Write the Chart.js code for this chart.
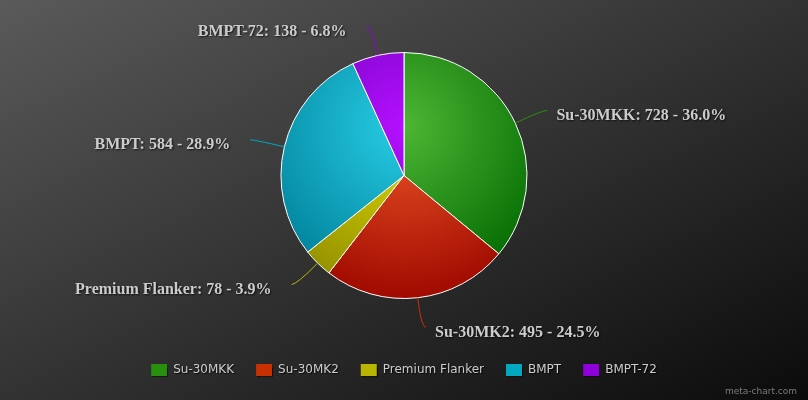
<!DOCTYPE html>
<html>
<head>
<meta charset="utf-8">
<title>Pie</title>
<script src="https://cdn.jsdelivr.net/npm/chart.js@4.4.1/dist/chart.umd.min.js"></script>
<style>
  html, body { margin: 0; padding: 0; }
  body { width: 808px; height: 400px; overflow: hidden;
         background: linear-gradient(to bottom right, #5a5a5a, #0b0b0b); }
  #wrap { position: relative; width: 808px; height: 400px; }
</style>
</head>
<body>
<div id="wrap"><canvas id="pie"></canvas></div>
<script>
const categories = ['Su-30MKK', 'Su-30MK2', 'Premium Flanker', 'BMPT', 'BMPT-72'];
const values = [728, 495, 78, 584, 138];
const baseColors = ['#4eb634', '#ed5728', '#e0dc00', '#28cde6', '#b410ff'];

// darker shade of a hex colour, amt subtracted from each channel
function darken(hex, amt) {
    const n = parseInt(hex.slice(1), 16);
    const c = [(n >> 16) & 255, (n >> 8) & 255, n & 255].map(v => Math.max(0, v - amt));
    return `rgb(${c[0]},${c[1]},${c[2]})`;
}
const darkColors = baseColors.map(c => darken(c, 77));
const midColors = baseColors.map(c => darken(c, 38));

const total = values.reduce((a, b) => a + b, 0);

const radialFill = {
    id: 'radialFill',
    beforeDraw(chart) {
        // soft shadow for the legend text, drawn before the datasets
        const ctx = chart.ctx;
        ctx.save();
        ctx.shadowColor = 'rgba(0,0,0,0.8)';
        ctx.shadowOffsetX = 1;
        ctx.shadowOffsetY = 1;
        ctx.shadowBlur = 1;
    },
    beforeDatasetsDraw(chart) {
        chart.ctx.restore();
        const meta = chart.getDatasetMeta(0);
        if (!meta.data.length) return;
        const { x, y, outerRadius } = meta.data[0];
        const d = outerRadius * 2;
        const ctx = chart.ctx;
        meta.data.forEach((arc, i) => {
            const g = ctx.createRadialGradient(x, y - 0.2 * d, 0, x, y - 0.2 * d, 0.7 * d);
            g.addColorStop(0, baseColors[i]);
            g.addColorStop(1, darkColors[i]);
            arc.options.backgroundColor = g;
        });
    }
};

const outsideLabels = {
    id: 'outsideLabels',
    afterDatasetsDraw(chart) {
        const ctx = chart.ctx;
        const meta = chart.getDatasetMeta(0);
        meta.data.forEach((arc, i) => {
            const mid = (arc.startAngle + arc.endAngle) / 2;
            const dx = Math.cos(mid), dy = Math.sin(mid);
            const r = arc.outerRadius;
            const side = dx >= 0 ? 1 : -1;
            const x0 = arc.x + dx * r, y0 = arc.y + dy * r;
            const ax = arc.x + dx * (r + 30), ay = arc.y + dy * (r + 30);

            ctx.save();
            ctx.strokeStyle = midColors[i];
            ctx.lineWidth = 1;
            ctx.beginPath();
            ctx.moveTo(x0, y0);
            ctx.quadraticCurveTo(ax, ay, ax + side * 5, ay);
            ctx.stroke();

            const pct = (values[i] / total * 100).toFixed(1);
            ctx.font = 'bold 16px "Liberation Serif", "Times New Roman", serif';
            ctx.fillStyle = '#cccccc';
            ctx.textBaseline = 'middle';
            ctx.textAlign = side > 0 ? 'left' : 'right';
            ctx.shadowColor = 'rgba(0,0,0,0.7)';
            ctx.shadowOffsetX = 1;
            ctx.shadowOffsetY = 1;
            ctx.shadowBlur = 2;
            ctx.fillText(`${categories[i]}: ${values[i]} - ${pct}%`, ax + (side > 0 ? 14 : -25), ay + 5.5);
            ctx.restore();
        });
    },
    afterDraw(chart) {
        const ctx = chart.ctx;
        ctx.save();
        ctx.font = '9px "DejaVu Sans", sans-serif';
        ctx.fillStyle = '#7a7a7a';
        ctx.textAlign = 'right';
        ctx.textBaseline = 'middle';
        ctx.fillText('meta-chart.com', 797, 392);
        ctx.restore();
    }
};

new Chart(document.getElementById('pie'), {
    type: 'pie',
    data: {
        labels: categories,
        datasets: [{
            data: values,
            backgroundColor: baseColors,
            borderColor: '#ffffff',
            borderWidth: 1,
            radius: 123
        }]
    },
    options: {
        responsive: true,
        maintainAspectRatio: false,
        animation: false,
        events: [],
        layout: { padding: { top: 9, bottom: 14 } },
        plugins: {
            tooltip: { enabled: false },
            legend: {
                position: 'bottom',
                labels: {
                    boxWidth: 16,
                    boxHeight: 12,
                    padding: 22,
                    color: '#cccccc',
                    font: { family: 'DejaVu Sans', size: 12 },
                    generateLabels(chart) {
                        return categories.map((c, i) => ({
                            text: c,
                            fillStyle: midColors[i],
                            strokeStyle: 'rgba(0,0,0,0)',
                            lineWidth: 0,
                            fontColor: '#cccccc',
                            hidden: false,
                            index: i
                        }));
                    }
                }
            }
        }
    },
    plugins: [radialFill, outsideLabels]
});
</script>
</body>
</html>
